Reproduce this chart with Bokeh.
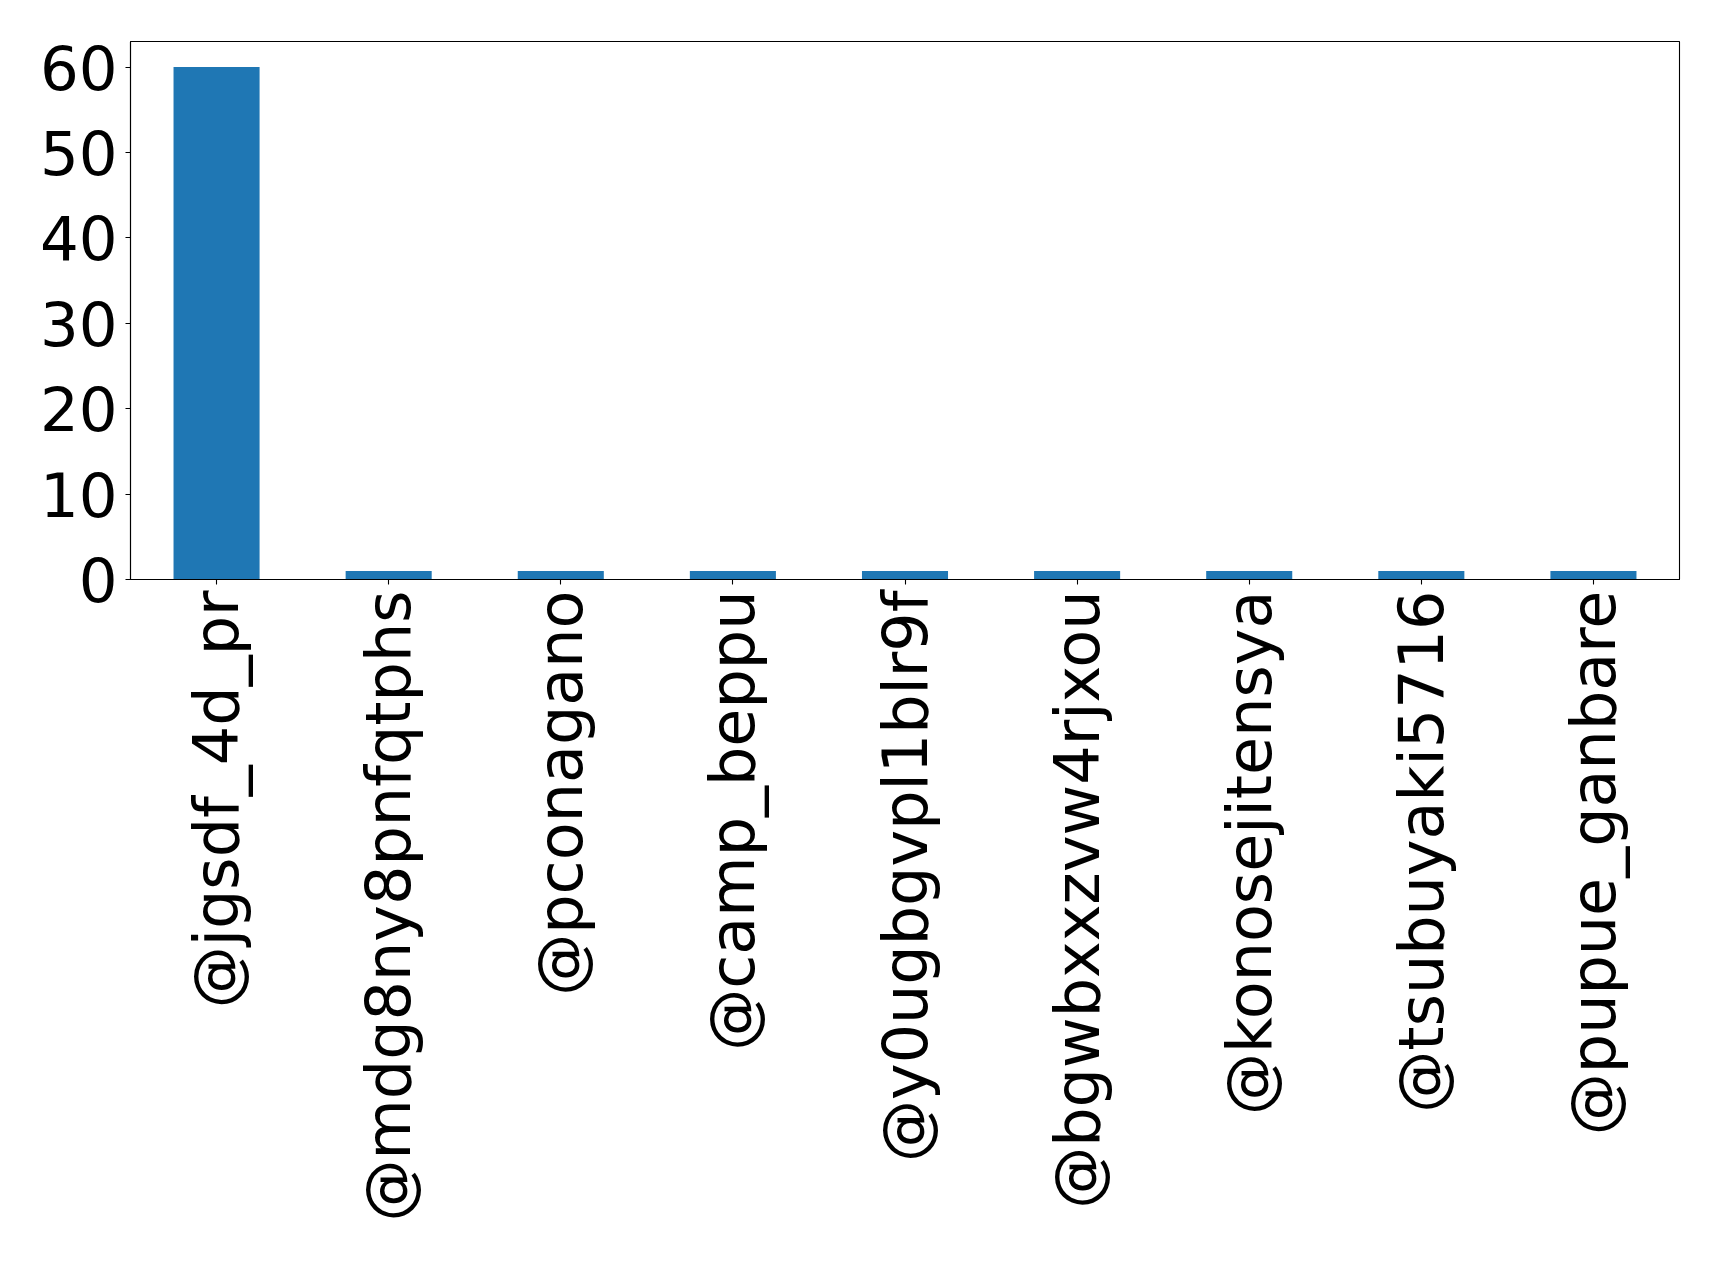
import math
from bokeh.plotting import figure
from bokeh.models import FactorRange, Range1d, FixedTicker, ColumnDataSource
from bokeh.embed import file_html
from bokeh.resources import INLINE

users = ["@jgsdf_4d_pr", "@mdg8ny8pnfqtphs", "@pconagano", "@camp_beppu",
         "@y0ugbgvpl1blr9f", "@bgwbxxzvw4rjxou", "@konosejitensya",
         "@tsubuyaki5716", "@pupue_ganbare"]
counts = [60, 1, 1, 1, 1, 1, 1, 1, 1]
y_ticks = [0, 10, 20, 30, 40, 50, 60]

source = ColumnDataSource(data=dict(users=users, counts=counts))

p = figure(
    x_range=FactorRange(*users, range_padding=0),
    y_range=Range1d(0, 63),
    width=1703, height=1248,
    min_border_left=130, min_border_right=24,
    min_border_top=41, min_border_bottom=669,
    output_backend="svg", toolbar_location=None,
)

p.vbar(x="users", top="counts", width=0.5, source=source,
       fill_color="#1f77b4", line_color=None)

p.xgrid.visible = False
p.ygrid.visible = False
p.outline_line_color = "black"
p.outline_line_width = 1.1
p.outline_line_alpha = 1.0

p.yaxis.ticker = FixedTicker(ticks=y_ticks)
for ax in (p.xaxis, p.yaxis):
    ax.axis_line_color = "black"
    ax.axis_line_width = 1.1
    ax.major_tick_line_color = "black"
    ax.major_tick_line_width = 1.1
    ax.major_tick_in = 0
    ax.major_tick_out = 5
    ax.minor_tick_line_color = None
    ax.major_label_text_font = "DejaVu Sans"
    ax.major_label_text_color = "black"

p.yaxis.major_label_text_font_size = "61px"
p.yaxis.major_label_standoff = 8
p.xaxis.major_label_text_font_size = "62px"
p.xaxis.major_label_standoff = 6
p.xaxis.major_label_orientation = math.pi / 2

open("out.html", "w").write(file_html(p, INLINE))
